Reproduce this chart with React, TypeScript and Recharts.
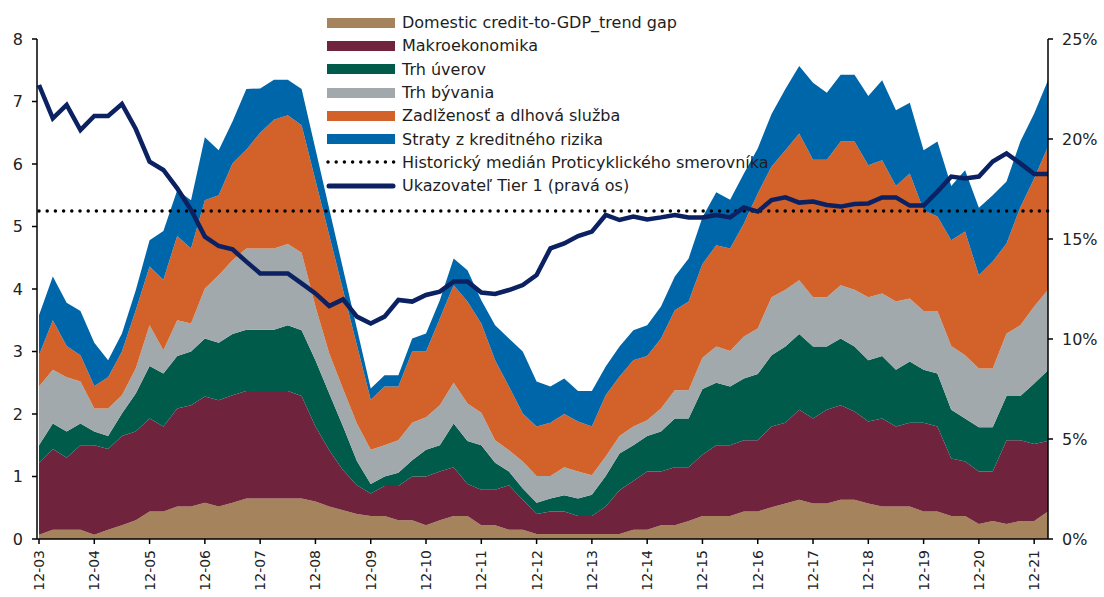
import * as React from 'react';
import {
  ComposedChart, Area, Line, XAxis, YAxis, Legend,
} from 'recharts';

const FONT = '"DejaVu Sans", Verdana, sans-serif';

const quarters = [
  '12-03',
  '03-04', '06-04', '09-04', '12-04', '03-05', '06-05', '09-05', '12-05',
  '03-06', '06-06', '09-06', '12-06', '03-07', '06-07', '09-07', '12-07',
  '03-08', '06-08', '09-08', '12-08', '03-09', '06-09', '09-09', '12-09',
  '03-10', '06-10', '09-10', '12-10', '03-11', '06-11', '09-11', '12-11',
  '03-12', '06-12', '09-12', '12-12', '03-13', '06-13', '09-13', '12-13',
  '03-14', '06-14', '09-14', '12-14', '03-15', '06-15', '09-15', '12-15',
  '03-16', '06-16', '09-16', '12-16', '03-17', '06-17', '09-17', '12-17',
  '03-18', '06-18', '09-18', '12-18', '03-19', '06-19', '09-19', '12-19',
  '03-20', '06-20', '09-20', '12-20', '03-21', '06-21', '09-21', '12-21',
  '03-22',
];

const creditGap = [
  0.07, 0.15, 0.15, 0.15, 0.07, 0.15, 0.22, 0.30, 0.44, 0.44, 0.52, 0.52, 0.58,
  0.52, 0.58, 0.65, 0.65, 0.65, 0.65, 0.65, 0.60, 0.52, 0.46, 0.40, 0.37,
  0.37, 0.30, 0.30, 0.22, 0.30, 0.37, 0.37, 0.22, 0.22, 0.15, 0.15, 0.08,
  0.08, 0.08, 0.08, 0.08, 0.08, 0.08, 0.15, 0.15, 0.22, 0.22, 0.29, 0.37,
  0.37, 0.37, 0.44, 0.44, 0.51, 0.57, 0.63, 0.57, 0.57, 0.63, 0.63, 0.57,
  0.52, 0.52, 0.52, 0.44, 0.44, 0.37, 0.37, 0.24, 0.29, 0.24, 0.29, 0.29, 0.44,
];

const makro = [
  1.15, 1.29, 1.15, 1.35, 1.43, 1.29, 1.43, 1.42, 1.49, 1.36, 1.57, 1.62, 1.70,
  1.70, 1.72, 1.72, 1.72, 1.72, 1.72, 1.64, 1.20, 0.90, 0.64, 0.46, 0.36,
  0.48, 0.55, 0.70, 0.78, 0.78, 0.78, 0.51, 0.57, 0.57, 0.71, 0.48, 0.32,
  0.36, 0.36, 0.29, 0.29, 0.44, 0.70, 0.78, 0.93, 0.86, 0.93, 0.86, 0.98,
  1.13, 1.13, 1.14, 1.14, 1.29, 1.29, 1.44, 1.36, 1.50, 1.51, 1.41, 1.31,
  1.41, 1.28, 1.34, 1.42, 1.36, 0.92, 0.87, 0.84, 0.79, 1.34, 1.29, 1.23, 1.13,
];

const trhUverov = [
  0.28, 0.41, 0.42, 0.35, 0.22, 0.21, 0.36, 0.61, 0.84, 0.85, 0.84, 0.86, 0.93,
  0.92, 0.98, 0.98, 0.98, 0.98, 1.05, 1.05, 1.06, 0.91, 0.70, 0.39, 0.15,
  0.15, 0.21, 0.26, 0.43, 0.42, 0.70, 0.69, 0.71, 0.43, 0.22, 0.18, 0.18,
  0.21, 0.26, 0.28, 0.34, 0.49, 0.59, 0.57, 0.57, 0.64, 0.78, 0.78, 1.05,
  1.00, 0.94, 0.99, 1.06, 1.14, 1.22, 1.21, 1.15, 1.01, 1.07, 1.04, 0.98,
  1.00, 0.91, 0.98, 0.85, 0.85, 0.78, 0.69, 0.71, 0.71, 0.71, 0.71, 0.97, 1.13,
];

const trhByvania = [
  0.94, 0.86, 0.87, 0.67, 0.37, 0.44, 0.29, 0.40, 0.65, 0.37, 0.57, 0.45, 0.80,
  1.08, 1.18, 1.30, 1.30, 1.30, 1.30, 1.24, 0.86, 0.64, 0.60, 0.60, 0.55,
  0.50, 0.52, 0.60, 0.52, 0.64, 0.65, 0.60, 0.52, 0.36, 0.34, 0.43, 0.43,
  0.36, 0.45, 0.43, 0.31, 0.31, 0.28, 0.30, 0.25, 0.37, 0.45, 0.45, 0.50,
  0.58, 0.57, 0.67, 0.73, 0.93, 0.91, 0.86, 0.79, 0.79, 0.85, 0.91, 1.01,
  1.00, 1.09, 1.01, 0.94, 1.00, 1.02, 1.01, 0.94, 0.94, 1.00, 1.13, 1.23, 1.29,
];

const zadlzenost = [
  0.50, 0.79, 0.50, 0.42, 0.36, 0.50, 0.70, 0.93, 0.94, 1.13, 1.35, 1.20, 1.41,
  1.28, 1.55, 1.58, 1.85, 2.06, 2.06, 2.04, 2.02, 1.89, 1.58, 1.25, 0.80,
  0.94, 0.86, 1.14, 1.05, 1.39, 1.56, 1.63, 1.43, 1.28, 1.02, 0.77, 0.79,
  0.85, 0.85, 0.80, 0.78, 0.98, 0.95, 1.06, 1.03, 1.12, 1.28, 1.42, 1.50,
  1.62, 1.64, 1.81, 2.16, 2.09, 2.23, 2.35, 2.20, 2.20, 2.30, 2.37, 2.11,
  2.13, 1.85, 2.00, 1.61, 1.51, 1.69, 1.98, 1.49, 1.71, 1.44, 1.89, 2.05, 2.29,
];

const straty = [
  0.64, 0.70, 0.69, 0.71, 0.69, 0.27, 0.29, 0.32, 0.42, 0.78, 0.73, 0.77, 1.01,
  0.72, 0.67, 0.97, 0.71, 0.64, 0.57, 0.58, 0.50, 0.42, 0.34, 0.27, 0.18,
  0.18, 0.18, 0.21, 0.29, 0.29, 0.43, 0.50, 0.37, 0.56, 0.77, 0.99, 0.72,
  0.58, 0.57, 0.49, 0.57, 0.46, 0.48, 0.48, 0.49, 0.51, 0.54, 0.69, 0.75,
  0.85, 0.78, 0.80, 0.72, 0.84, 0.98, 1.08, 1.23, 1.07, 1.07, 1.07, 1.11,
  1.28, 1.21, 1.13, 0.96, 1.20, 0.87, 0.98, 1.08, 1.06, 0.99, 1.05, 1.04, 1.06,
];

const medianValue = 5.25;

const tier1 = [
  22.7, 21.03, 21.7, 20.45, 21.15, 21.15, 21.75, 20.5, 18.87, 18.45, 17.53, 16.45, 15.12,
  14.65, 14.48, 13.87, 13.28, 13.28, 13.28, 12.78, 12.28, 11.65, 11.98, 11.12, 10.78,
  11.12, 11.95, 11.87, 12.2, 12.37, 12.87, 12.87, 12.32, 12.25, 12.45, 12.7, 13.2,
  14.53, 14.78, 15.15, 15.37, 16.2, 15.95, 16.12, 15.98, 16.08, 16.2, 16.08, 16.08,
  16.2, 16.08, 16.58, 16.37, 16.95, 17.08, 16.82, 16.87, 16.7, 16.62, 16.75, 16.78,
  17.08, 17.08, 16.67, 16.67, 17.37, 18.12, 18.03, 18.12, 18.87, 19.28, 18.78, 18.25, 18.25,
];

const leftTicks = [0, 1, 2, 3, 4, 5, 6, 7, 8];
const rightTicks = [0, 5, 10, 15, 20, 25];

const series = [
  { key: 'gap', name: 'Domestic credit-to-GDP_trend gap', color: '#A5845D', values: creditGap },
  { key: 'makro', name: 'Makroekonomika', color: '#70233D', values: makro },
  { key: 'uver', name: 'Trh úverov', color: '#005B4B', values: trhUverov },
  { key: 'byv', name: 'Trh bývania', color: '#A1A9AC', values: trhByvania },
  { key: 'dlh', name: 'Zadlženosť a dlhová služba', color: '#D2622A', values: zadlzenost },
  { key: 'straty', name: 'Straty z kreditného rizika', color: '#0066AA', values: straty },
];

const medianName = 'Historický medián Proticyklického smerovníka';
const tierName = 'Ukazovateľ Tier 1 (pravá os)';
const navy = '#0B2161';

const data = quarters.map((q, i) => {
  const row: Record<string, string | number> = { q, median: medianValue, tier: tier1[i] };
  series.forEach(s => { row[s.key] = s.values[i]; });
  return row;
});

const XTick = (props: any) => {
  const { x, y, payload } = props;
  return (
    <g transform={`translate(${x},${y + 4})`}>
      <text transform="rotate(-90)" textAnchor="end" dominantBaseline="central"
        fontSize={14} fill="#222" fontFamily={FONT}>
        {payload.value}
      </text>
    </g>
  );
};

const renderLegend = () => (
  <div style={{ fontFamily: FONT, fontSize: 16, color: '#1e1e1e' }}>
    {series.map(s => (
      <div key={s.key} style={{ display: 'flex', alignItems: 'center', height: 23.3 }}>
        <svg width={70} height={12}><rect x={1} y={1} width={68} height={10} fill={s.color} /></svg>
        <span style={{ marginLeft: 6, whiteSpace: 'nowrap' }}>{s.name}</span>
      </div>
    ))}
    <div style={{ display: 'flex', alignItems: 'center', height: 23.3 }}>
      <svg width={70} height={12}>
        <line x1={2} y1={6} x2={68} y2={6} stroke="#000" strokeWidth={3.5} strokeDasharray="0 8.2" strokeLinecap="round" />
      </svg>
      <span style={{ marginLeft: 6, whiteSpace: 'nowrap' }}>{medianName}</span>
    </div>
    <div style={{ display: 'flex', alignItems: 'center', height: 23.3 }}>
      <svg width={70} height={12}>
        <line x1={3} y1={6} x2={67} y2={6} stroke={navy} strokeWidth={5} strokeLinecap="round" />
      </svg>
      <span style={{ marginLeft: 6, whiteSpace: 'nowrap' }}>{tierName}</span>
    </div>
  </div>
);

export default function App() {
  return (
    <div style={{ position: 'absolute', left: 0, top: 0, width: 1104, height: 597, background: '#fff', fontFamily: FONT }}>
      <ComposedChart width={1104} height={597} data={data} margin={{ top: 39, right: 0, left: 0, bottom: 0 }}>
        <XAxis dataKey="q" interval={3} height={58} tick={<XTick />} tickSize={5}
          axisLine={{ stroke: '#000', strokeWidth: 1.5 }} tickLine={{ stroke: '#000', strokeWidth: 1.5 }}
          padding={{ left: 2, right: 0 }} />
        <YAxis yAxisId="left" width={37} domain={[0, 8]} ticks={leftTicks} tickSize={5} tickMargin={9}
          tick={{ fontSize: 16, fill: '#222', fontFamily: FONT }}
          axisLine={{ stroke: '#000', strokeWidth: 1.5 }} tickLine={{ stroke: '#000', strokeWidth: 1.5 }} />
        <YAxis yAxisId="right" orientation="right" width={56} domain={[0, 25]} ticks={rightTicks}
          tickFormatter={(v: number) => `${v}%`} tickSize={5} tickMargin={9}
          tick={{ fontSize: 16, fill: '#222', fontFamily: FONT }}
          axisLine={{ stroke: '#000', strokeWidth: 1.5 }} tickLine={{ stroke: '#000', strokeWidth: 1.5 }} />
        <Legend layout="vertical" align="center" verticalAlign="middle" content={renderLegend}
          wrapperStyle={{ top: 11, left: 326, width: 500, height: 190 }} />
        {series.map(s => (
          <Area key={s.key} yAxisId="left" type="linear" dataKey={s.key} name={s.name} stackId="a"
            stroke="none" fill={s.color} fillOpacity={1} isAnimationActive={false} />
        ))}
        <Line yAxisId="left" type="linear" dataKey="median" name={medianName} stroke="#000"
          strokeWidth={3.5} strokeDasharray="0 8.2" strokeLinecap="round" dot={false} isAnimationActive={false} />
        <Line yAxisId="right" type="linear" dataKey="tier" name={tierName} stroke={navy}
          strokeWidth={4.5} dot={false} isAnimationActive={false} />
      </ComposedChart>
    </div>
  );
}
